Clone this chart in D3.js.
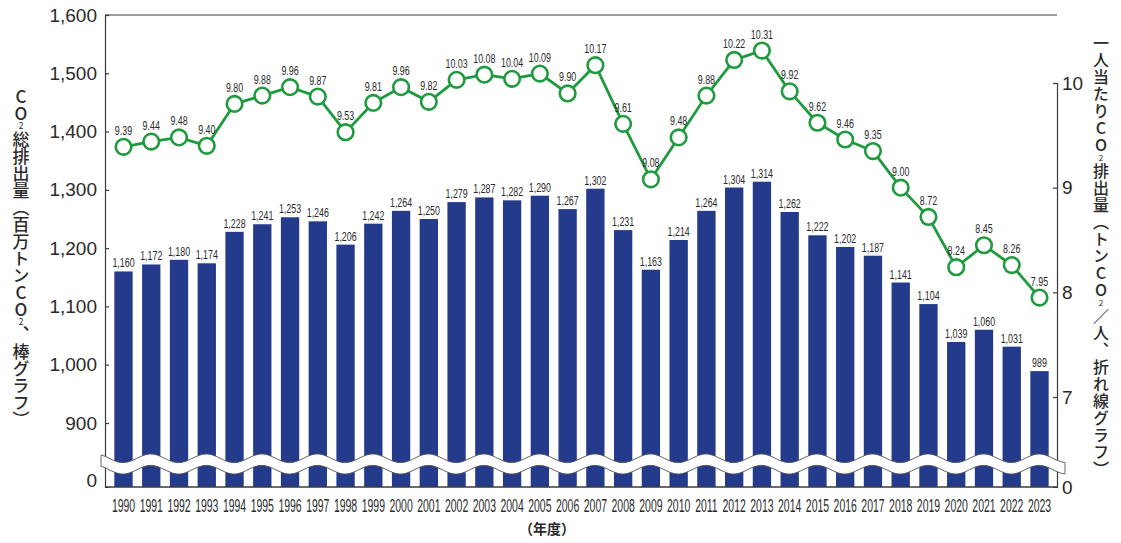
<!DOCTYPE html>
<html>
<head>
<meta charset="utf-8">
<script src="https://cdn.jsdelivr.net/npm/d3@7"></script>
<style>
  html, body { margin: 0; padding: 0; background: #fff; }
  svg { display: block; }
  .vt { writing-mode: vertical-rl; text-orientation: upright; }
</style>
</head>
<body>
<script>
// ---- data ----
const years = [1990,1991,1992,1993,1994,1995,1996,1997,1998,1999,2000,2001,2002,2003,2004,2005,2006,2007,2008,2009,2010,2011,2012,2013,2014,2015,2016,2017,2018,2019,2020,2021,2022,2023];
const totalEmissions = [1160,1172,1180,1174,1228,1241,1253,1246,1206,1242,1264,1250,1279,1287,1282,1290,1267,1302,1231,1163,1214,1264,1304,1314,1262,1222,1202,1187,1141,1104,1039,1060,1031,989];
const perCapita = [9.39,9.44,9.48,9.40,9.80,9.88,9.96,9.87,9.53,9.81,9.96,9.82,10.03,10.08,10.04,10.09,9.90,10.17,9.61,9.08,9.48,9.88,10.22,10.31,9.92,9.62,9.46,9.35,9.00,8.72,8.24,8.45,8.26,7.95];
const leftTicks = [0,900,1000,1100,1200,1300,1400,1500,1600];
const rightTicks = [0,7,8,9,10];
// title pieces: [text, isSubscript]
const leftTitle = [["CO", false], ["2", true], ["総排出量（百万トンCO", false], ["2", true], ["、棒グラフ）", false]];
const rightTitle = [["一人当たりCO", false], ["2", true], ["排出量（トンCO", false], ["2", true], ["／人、折れ線グラフ）", false]];
const xTitle = "（年度）";

// ---- layout ----
const W = 1121, H = 543;
const axL = 105, axR = 1057, axTop = 15, axBottom = 487;
const barColor = "#243b8c", lineColor = "#1f9a3e", textColor = "#2a2a2a", axisColor = "#3a3a3a";
const numFont = "'Liberation Sans', Arial, Helvetica, sans-serif";
const jpFont = "'Noto Sans CJK JP', 'Noto Sans', sans-serif";

const svg = d3.select("body").append("svg").attr("width", W).attr("height", H);

const x = d3.scalePoint().domain(years).range([123.5, 1039.5]);
const barW = x.step() * 0.66;
const yL = d3.scaleLinear().domain([0, 900, 1600]).range([axBottom, 423, axTop]);
const yR = d3.scaleLinear().domain([0, 7, 10]).range([axBottom, 397, 83]);

// bars
svg.append("g").selectAll("rect").data(years).join("rect")
  .attr("x", d => x(d) - barW / 2)
  .attr("width", barW)
  .attr("y", (d, i) => yL(totalEmissions[i]))
  .attr("height", (d, i) => axBottom - yL(totalEmissions[i]))
  .attr("fill", barColor);

// bar value labels
svg.append("g").selectAll("text").data(years).join("text")
  .attr("transform", (d, i) => `translate(${x(d)},${yL(totalEmissions[i]) - 4}) scale(0.74,1)`)
  .attr("text-anchor", "middle")
  .attr("font-family", numFont).attr("font-size", 12).attr("fill", textColor)
  .text((d, i) => d3.format(",")(totalEmissions[i]));

// frame: top border
svg.append("line").attr("x1", axL).attr("x2", axR).attr("y1", axTop).attr("y2", axTop)
  .attr("stroke", axisColor).attr("stroke-width", 1.2);

// left axis
const gL = svg.append("g").attr("transform", `translate(${axL},0)`)
  .call(d3.axisLeft(yL).tickValues(leftTicks).tickSize(-4).tickPadding(8).tickFormat(d3.format(",")));
// right axis
const gR = svg.append("g").attr("transform", `translate(${axR},0)`)
  .call(d3.axisRight(yR).tickValues(rightTicks).tickSize(-4).tickPadding(5).tickFormat(d3.format("d")));
[gL, gR].forEach(g => {
  g.select(".domain").attr("stroke", axisColor).attr("stroke-width", 1.2);
  g.selectAll(".tick line").attr("stroke", axisColor).attr("stroke-width", 1.2);
  g.selectAll(".tick text").attr("font-family", numFont).attr("font-size", 19).attr("fill", textColor);
});
gL.selectAll(".tick").filter(d => d === 0).select("line").remove();
gR.selectAll(".tick").filter(d => d === 0).select("line").remove();
gL.selectAll(".tick").filter(d => d === 0).select("text").attr("dy", "-0.05em");

// bottom axis line
svg.append("line").attr("x1", axL).attr("x2", axR).attr("y1", axBottom).attr("y2", axBottom)
  .attr("stroke", axisColor).attr("stroke-width", 1.4);

// year labels
svg.append("g").selectAll("text").data(years).join("text")
  .attr("transform", d => `translate(${x(d)},512) scale(0.55,1)`)
  .attr("text-anchor", "middle")
  .attr("font-family", numFont).attr("font-size", 19).attr("fill", textColor)
  .text(d => d);

// wavy axis break
const waveLen = x.step() * 2, amp = 4.3;
const xs = d3.range(101, 1065.1, 1);
const waveY = (xx, c) => c + amp * Math.cos(2 * Math.PI * (xx - 123) / waveLen);
const topPts = xs.map(xx => [xx, waveY(xx, 458.3)]);
const botPts = xs.slice().reverse().map(xx => [xx, waveY(xx, 469.7)]);
svg.append("path")
  .attr("d", d3.line()(topPts.concat(botPts)) + "Z")
  .attr("fill", "#fff").attr("stroke", "#555").attr("stroke-width", 0.9);

// line series
const line = d3.line().x((d, i) => x(years[i])).y(d => yR(d));
svg.append("path").datum(perCapita).attr("d", line)
  .attr("fill", "none").attr("stroke", lineColor).attr("stroke-width", 2.8);
svg.append("g").selectAll("circle").data(perCapita).join("circle")
  .attr("cx", (d, i) => x(years[i])).attr("cy", d => yR(d)).attr("r", 7.8)
  .attr("fill", "#fff").attr("stroke", lineColor).attr("stroke-width", 2.6);
svg.append("g").selectAll("text").data(perCapita).join("text")
  .attr("transform", (d, i) => `translate(${x(years[i])},${yR(d) - 12}) scale(0.74,1)`)
  .attr("text-anchor", "middle")
  .attr("font-family", numFont).attr("font-size", 12).attr("fill", textColor)
  .text(d => d3.format(".2f")(d));

// vertical titles (single text elements in vertical writing mode)
function verticalTitle(parts, cx, yStart, fs, spacing) {
  const t = svg.append("text").attr("class", "vt")
    .attr("x", cx).attr("y", yStart)
    .attr("font-family", jpFont).attr("font-weight", 500)
    .attr("font-size", fs).attr("fill", textColor)
    .attr("letter-spacing", spacing);
  parts.forEach(([s, sub]) => {
    const ts = t.append("tspan").text(s);
    if (sub) ts.attr("font-size", fs * 0.5).attr("font-weight", 400);
  });
}
verticalTitle(leftTitle, 21, 88, 17, 0);
verticalTitle(rightTitle, 1101, 35, 16, 1);

// x title
svg.append("text").attr("x", 547).attr("y", 534).attr("text-anchor", "middle")
  .attr("font-family", jpFont).attr("font-weight", 700).attr("font-size", 14).attr("fill", textColor)
  .text(xTitle);
</script>
</body>
</html>
